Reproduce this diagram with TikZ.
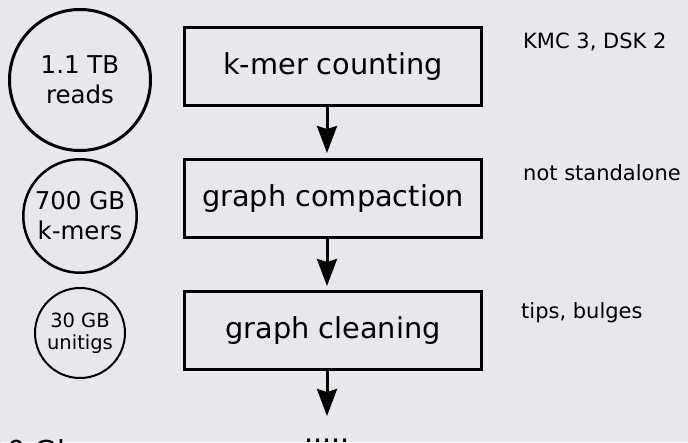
\documentclass[tikz,border=0pt]{standalone}
\usepackage{fontspec}
\setmainfont{DejaVu Sans}
\usetikzlibrary{arrows.meta}
\definecolor{bg}{HTML}{E8E7EB}
\tikzset{
  stepbox/.style={draw=black, line width=3pt, minimum width=297pt, minimum height=78pt, inner sep=0pt, font=\fontsize{28.8}{34}\selectfont},
  datacirc/.style={draw=black, circle, inner sep=0pt, align=center},
  flow/.style={line width=3pt, -{Stealth[length=27pt,width=20pt,inset=3pt]}},
  note/.style={anchor=base west, font=\fontsize{21}{25}\selectfont, inner sep=0pt}
}
\begin{document}
\begin{tikzpicture}[x=1pt,y=-1pt]
\useasboundingbox (0,0) rectangle (688,442);
\clip (0,0) rectangle (688,442);
\fill[bg] (0,0) rectangle (688,442);

% circles
\node[datacirc, line width=3pt, minimum size=141pt, font=\fontsize{24.5}{30}\selectfont] (c1) at (80,80) {1.1 TB\\reads};
\node[datacirc, line width=2.5pt, minimum size=113.5pt, font=\fontsize{24.5}{30}\selectfont] (c2) at (80,216) {700 GB\\k-mers};
\node[datacirc, line width=2pt, minimum size=90pt, font=\fontsize{19.5}{22}\selectfont] (c3) at (80,333) {30 GB\\unitigs};

% boxes
\node[stepbox] (b1) at (333,66.5) {k-mer counting};
\node[stepbox] (b2) at (333,198.5) {graph compaction};
\node[stepbox] (b3) at (333,330.5) {graph cleaning};

% notes
\node[note] (n1) at (523,48) {KMC 3, DSK 2};
\node[note] (n2) at (523,180) {not standalone};
\node[note] (n3) at (521,318) {tips, bulges};

% arrows
\coordinate (e3) at (327,416);
\draw[flow] ([xshift=-6pt]b1.south) -- ([xshift=-6pt,yshift=5pt]b2.north);
\draw[flow] ([xshift=-6pt]b2.south) -- ([xshift=-6pt,yshift=4pt]b3.north);
\draw[flow] ([xshift=-6pt]b3.south) -- (e3);

% bottom texts
\node[anchor=base, inner sep=0pt, font=\fontsize{28.8}{34}\selectfont] (dots) at (327,442) {.....};
\node[anchor=base west, inner sep=0pt, font=\fontsize{28.8}{34}\selectfont] (bl) at (-11,461) {10 Gbp sequences};
\end{tikzpicture}
\end{document}
